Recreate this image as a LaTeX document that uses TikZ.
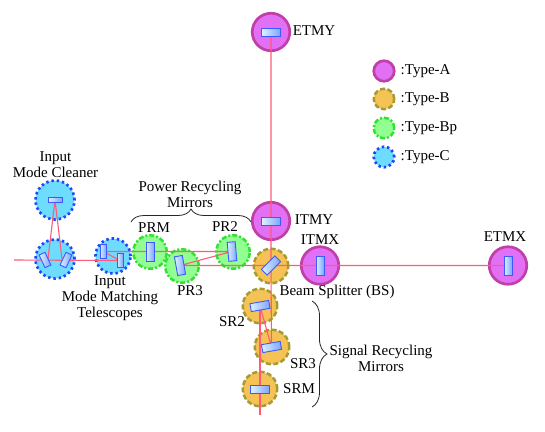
\documentclass[tikz,border=0pt]{standalone}
\usepackage{fontspec}
\setmainfont{Liberation Serif}
\usetikzlibrary{decorations.pathreplacing}
\definecolor{ridge}{HTML}{FF5A78}
\definecolor{aedge}{HTML}{C040A8}
\definecolor{afill}{HTML}{E270F5}
\definecolor{bedge}{HTML}{A59B32}
\definecolor{bfill}{HTML}{F5C355}
\definecolor{pedge}{HTML}{32E132}
\definecolor{pfill}{HTML}{91FF91}
\definecolor{cedge}{HTML}{1E46FF}
\definecolor{cfill}{HTML}{6EDCFF}
\definecolor{medge}{HTML}{3C5AFF}
\definecolor{mlight}{HTML}{DDF2FF}
\definecolor{mdark}{HTML}{7CA4FF}
\tikzset{
  typeA/.style={circle,minimum size=#1,inner sep=0pt,draw=aedge,fill=afill,line width=2.7pt},
  typeB/.style={circle,minimum size=#1,inner sep=0pt,draw=bedge,fill=bfill,line width=2.5pt,dash pattern=on 5pt off 2.5pt},
  typeBp/.style={circle,minimum size=#1,inner sep=0pt,draw=pedge,fill=pfill,line width=2.5pt,dash pattern=on 5pt off 2pt on 2pt off 2pt},
  typeC/.style={circle,minimum size=#1,inner sep=0pt,draw=cedge,fill=cfill,line width=2.7pt,dash pattern=on 2.4pt off 2.9pt},
  mirror/.style={rectangle,minimum width=19pt,minimum height=8pt,inner sep=0pt,draw=medge,line width=.9pt,left color=mlight,right color=mdark,rotate=#1},
  mirror/.default=0,
  beam/.style={draw=ridge,line width=1.1pt},
  lab/.style={align=center,font=\fontsize{15}{16}\selectfont,inner sep=0pt,text=black},
  curly/.style={draw=black!85,line width=.8pt,decorate,decoration={brace,amplitude=#1}}
}
\begin{document}
\begin{tikzpicture}[x=1pt,y=-1pt]
\useasboundingbox (0,0) rectangle (545,431);
% circles
\node[typeA=37.5pt] (cETMY) at (271,32) {};
\node[typeA=37.5pt] (cITMY) at (271,221) {};
\node[typeB=34.5pt] (cBS) at (271,266) {};
\node[typeA=37.5pt] (cITMX) at (320,265.5) {};
\node[typeA=37.5pt] (cETMX) at (508,265.5) {};
\node[typeB=34.5pt] (cSRtwo) at (260,306) {};
\node[typeB=34.5pt] (cSRthree) at (272,347) {};
\node[typeB=34.5pt] (cSRM) at (260,389) {};
\node[typeBp=33.5pt] (cPRM) at (150,252) {};
\node[typeBp=33.5pt] (cPRthree) at (182,266) {};
\node[typeBp=33.5pt] (cPRtwo) at (233,252) {};
\node[typeC=39pt] (cIMCt) at (55,200) {};
\node[typeC=39pt] (cIMCb) at (55,259) {};
\node[typeC=35pt] (cMMT) at (113,256) {};
% beam end points
\coordinate (inL) at (14,260);
\coordinate (outS) at (260,415);
% mirrors
\coordinate (mIMCt) at (55,200);
\coordinate (mIMCl) at (45,260);
\coordinate (mIMCr) at (66,260);
\coordinate (mMa) at (103,251.5);
\coordinate (mMb) at (120,260.5);
\coordinate (mPRM) at (150,251.5);
\coordinate (mPRt) at (232,251.5);
\coordinate (mPRh) at (180,265.5);
\coordinate (mBS) at (271,265.5);
\coordinate (mSRt) at (260,306);
\coordinate (mSRh) at (271.5,347);
\coordinate (mSRM) at (260,389);
\coordinate (mITMX) at (320,265.5);
\coordinate (mETMX) at (508,265.5);
\coordinate (mETMY) at (271,32);
\coordinate (mITMY) at (271,221);
% beams
\path[beam] (inL) -- (mMb) -- (mMa) -- (mPRt) -- (mPRh) -- (mETMX);
\path[beam] (48,259) -- (mIMCt) -- (62,259);
\path[beam] (mETMY) -- (mITMY) -- (mBS) -- (mSRh) -- (mSRt);
\path[beam] (mSRt) -- (outS);
% mirror bodies
\node[mirror=0] (bETMY) at (mETMY) {};
\node[mirror=0] (bITMY) at (mITMY) {};
\node[mirror=90] (bITMX) at (mITMX) {};
\node[mirror=90] (bETMX) at (mETMX) {};
\node[mirror=45] (bBS) at (mBS) {};
\node[mirror=10] (bSRt) at (mSRt) {};
\node[mirror=10] (bSRh) at (mSRh) {};
\node[mirror=0] (bSRM) at (mSRM) {};
\node[mirror=90] (bPRM) at (mPRM) {};
\node[mirror=95] (bPRt) at (mPRt) {};
\node[mirror=100] (bPRh) at (mPRh) {};
\node[mirror=0,minimum width=14pt,minimum height=5.5pt] (bIMCt) at (mIMCt) {};
\node[mirror=115,minimum width=14pt,minimum height=6.5pt] (bIMCl) at (mIMCl) {};
\node[mirror=65,minimum width=14pt,minimum height=6.5pt] (bIMCr) at (mIMCr) {};
\node[mirror=90,minimum width=14pt,minimum height=6pt] (bMa) at (mMa) {};
\node[mirror=90,minimum width=14pt,minimum height=6pt] (bMb) at (mMb) {};
% braces
\draw[curly=13pt] (131,222) -- (251,222);
\draw[curly=15pt] (312,301) -- (312,407);
% labels
\node[lab] (lETMY) at (314,31) {ETMY};
\node[lab] (lETMX) at (505,237) {ETMX};
\node[lab] (lITMY) at (314,220) {ITMY};
\node[lab] (lITMX) at (320,240) {ITMX};
\node[lab] (lBS) at (337,291.5) {Beam Splitter (BS)};
\node[lab] (lSRtwo) at (232,322) {SR2};
\node[lab] (lSRthree) at (303,364) {SR3};
\node[lab] (lSRM) at (299,389) {SRM};
\node[lab] (lPRM) at (154,228) {PRM};
\node[lab] (lPRtwo) at (225,227) {PR2};
\node[lab] (lPRthree) at (190,291) {PR3};
\node[lab] (lIMC) at (55.5,165) {Input\\Mode Cleaner};
\node[lab] (lMMT) at (110,298.5) {Input\\Mode Matching\\Telescopes};
\node[lab] (lPRMs) at (190,194) {Power Recycling\\Mirrors};
\node[lab] (lSRMs) at (381,358) {Signal Recycling\\Mirrors};
% legend
\node[typeA=20.5pt] (kA) at (384,71) {};
\node[typeB=20.5pt] (kB) at (384,99) {};
\node[typeBp=20.5pt] (kBp) at (384,128) {};
\node[typeC=20.5pt] (kC) at (384,157) {};
\node[lab,anchor=west] (tA) at (400.5,71) {:Type-A};
\node[lab,anchor=west] (tB) at (400.5,99) {:Type-B};
\node[lab,anchor=west] (tBp) at (400.5,128) {:Type-Bp};
\node[lab,anchor=west] (tC) at (400.5,157) {:Type-C};
\end{tikzpicture}
\end{document}
